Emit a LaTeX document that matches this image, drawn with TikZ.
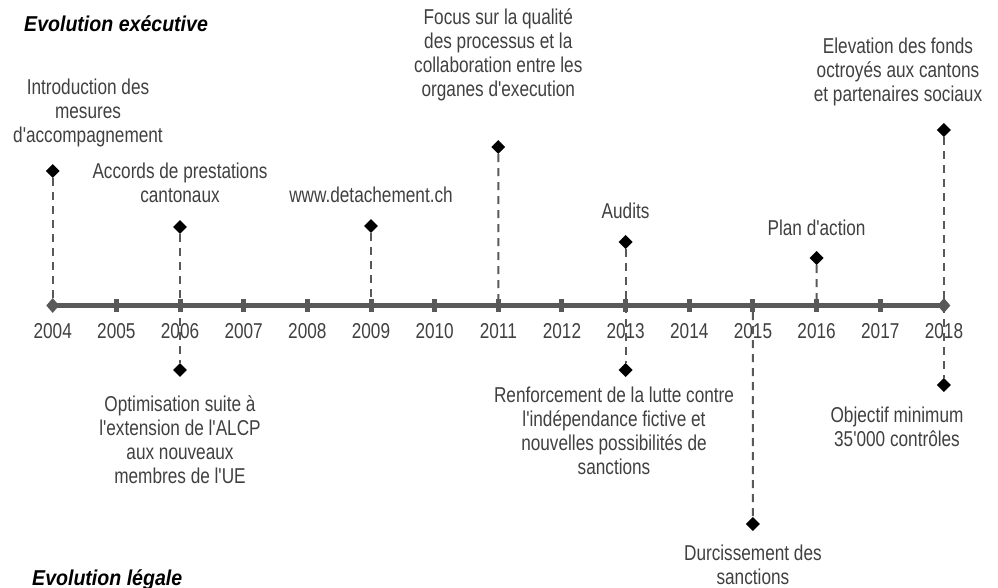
\documentclass[tikz,border=0pt]{standalone}
\usepackage{fontspec}
\setmainfont{Liberation Sans}[FakeStretch=0.8, Ligatures=TeXOff]
\newfontfamily\titlefont{Liberation Sans}[FakeStretch=0.91, Ligatures=TeXOff]
\usetikzlibrary{shapes.geometric}
\definecolor{txtgray}{HTML}{404040}
\definecolor{axgray}{HTML}{595959}
\tikzset{
  lbl/.style={font=\fontsize{21.5}{24}\selectfont, text=txtgray, align=center, inner sep=0pt},
  yearlbl/.style={font=\fontsize{21.5}{24}\selectfont, text=txtgray, inner sep=0pt},
  ttl/.style={font=\titlefont\fontsize{21.5}{24}\selectfont\bfseries\itshape, text=black, inner sep=0pt},
  ev/.style={diamond, fill=black, draw=none, minimum width=14pt, minimum height=14pt, inner sep=0pt},
  endmark/.style={diamond, fill=axgray, draw=none, minimum width=13pt, minimum height=15pt, inner sep=0pt},
  tickmark/.style={rectangle, fill=axgray, draw=none, minimum width=5pt, minimum height=13pt, inner sep=0pt},
  axisline/.style={draw=axgray, line width=5pt},
  stem/.style={draw=axgray, line width=2pt, dash pattern=on 8pt off 6pt}
}
\begin{document}
\begin{tikzpicture}[x=1pt,y=-1pt]
\useasboundingbox (0,0) rectangle (998,588);
% titles
\node[ttl, anchor=base west] (title1) at (24,32) {Evolution exécutive};
\node[ttl, anchor=base west] (title2) at (32,585) {Evolution légale};
% axis
\coordinate (a0) at (52.7,305.5);
\coordinate (a14) at (943.9,305.5);
\draw[axisline] (a0) -- (a14);
\foreach \i in {1,...,13} {
  \node[tickmark] (t\i) at ({52.7+63.66*\i},305.5) {};
}
\node[endmark] (e0) at (a0) {};
\node[endmark] (e14) at (a14) {};
\foreach \i in {0,...,14} {
  \pgfmathtruncatemacro\yr{2004+\i}
  \node[yearlbl] (y\i) at ({52.7+63.66*\i},331) {\yr};
}
% event diamonds
\node[ev] (d04) at (52.7,171) {};
\node[ev] (d06u) at (180,227) {};
\node[ev] (d06d) at (180,370) {};
\node[ev] (d09) at (371,226) {};
\node[ev] (d11) at (498.3,147) {};
\node[ev] (d13u) at (625.6,242) {};
\node[ev] (d13d) at (625.6,370) {};
\node[ev] (d15) at (752.9,524) {};
\node[ev] (d16) at (816.6,258) {};
\node[ev] (d18u) at (943.9,130) {};
\node[ev] (d18d) at (943.9,385) {};
% stems
\draw[stem] (d04) -- (e0);
\draw[stem] (d06u) -- (d06d);
\draw[stem] (d09) -- (t5);
\draw[stem] (d11) -- (t7);
\draw[stem] (d13u) -- (d13d);
\draw[stem] (t11) -- (d15);
\draw[stem] (d16) -- (t12);
\draw[stem] (d18u) -- (d18d);
% labels above
\node[lbl] (l04) at (88,113) {Introduction des\\mesures\\d'accompagnement};
\node[lbl] (l06u) at (180,183) {Accords de prestations\\cantonaux};
\node[lbl] (l09) at (371,195) {www.detachement.ch};
\node[lbl] (l11) at (498.3,55) {Focus sur la qualité\\des processus et la\\collaboration entre les\\organes d'execution};
\node[lbl] (l13u) at (625.6,211) {Audits};
\node[lbl] (l16) at (816.6,228) {Plan d'action};
\node[lbl] (l18u) at (898,72) {Elevation des fonds\\octroyés aux cantons\\et partenaires sociaux};
% labels below
\node[lbl] (l06d) at (180,440) {Optimisation suite à\\l'extension de l'ALCP\\aux nouveaux\\membres de l'UE};
\node[lbl] (l13d) at (614,431) {Renforcement de la lutte contre\\l'indépendance fictive et\\nouvelles possibilités de\\sanctions};
\node[lbl] (l15) at (752.9,565) {Durcissement des\\sanctions};
\node[lbl] (l18d) at (897,427) {Objectif minimum\\35'000 contrôles};
\end{tikzpicture}
\end{document}
